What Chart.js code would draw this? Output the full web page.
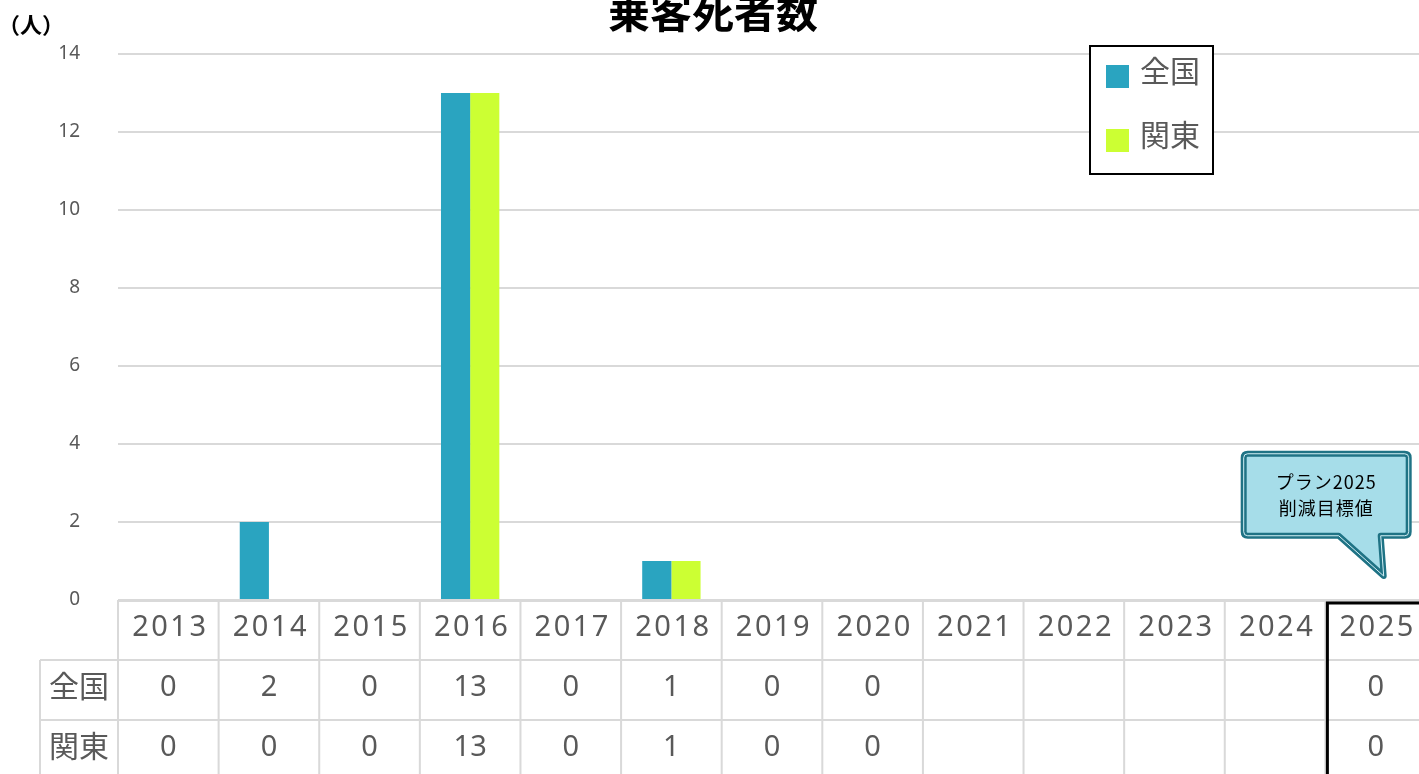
<!DOCTYPE html>
<html>
<head>
<meta charset="utf-8">
<script src="https://cdn.jsdelivr.net/npm/chart.js@4.4.1/dist/chart.umd.min.js"></script>
<style>
  html, body { margin: 0; padding: 0; background: #fff; overflow: hidden; }
  #wrap { width: 1426px; height: 774px; position: relative; }
</style>
</head>
<body>
<div id="wrap"><canvas id="deaths"></canvas></div>
<script>
// years shown on the axis / table header
const years = ['2013','2014','2015','2016','2017','2018','2019','2020','2021','2022','2023','2024','2025']
// passenger deaths, null = no figure yet
const zenkoku = [0, 2, 0, 13, 0, 1, 0, 0, null, null, null, null, 0]
const kanto = [0, 0, 0, 13, 0, 1, 0, 0, null, null, null, null, 0]
const seriesNames = ['全国', '関東']
const seriesColors = ['#2aa4c0', '#ccff33']
const yTicks = [0, 2, 4, 6, 8, 10, 12, 14]

const FONT = "'Noto Sans', 'Noto Sans CJK JP', sans-serif"
const GREY = '#595959'
const LINE = '#d9d9d9'

// draws title, unit, legend, data table and the target callout
const extras = {
    id: 'extras',
    afterDraw(chart) {
        const ctx = chart.ctx
        const area = chart.chartArea
        const xs = chart.scales.x
        const ys = chart.scales.y
        const colW = (area.right - area.left) / years.length
        const H = chart.height

        ctx.save()

        // title (cut at the top like the original)
        ctx.fillStyle = '#000'
        ctx.font = "bold 42px 'Noto Sans CJK JP', sans-serif"
        ctx.textAlign = 'center'
        ctx.textBaseline = 'middle'
        ctx.fillText('乗客死者数', chart.width / 2, 12)

        // unit
        ctx.font = "bold 22px 'Noto Sans CJK JP', sans-serif"
        ctx.textAlign = 'left'
        ctx.fillText('（人）', -2, 25)

        // table
        const rowTop = area.bottom
        const rowH = 60
        const labelLeft = 40
        ctx.strokeStyle = LINE
        ctx.lineWidth = 2
        ctx.beginPath()
        ctx.moveTo(area.left, rowTop + 1)
        ctx.lineTo(area.right, rowTop + 1)
        for (let r = 1; r <= 2; r++) {
            ctx.moveTo(labelLeft, rowTop + r * rowH)
            ctx.lineTo(area.right, rowTop + r * rowH)
        }
        ctx.moveTo(labelLeft, rowTop + rowH)
        ctx.lineTo(labelLeft, H)
        for (let i = 0; i <= years.length; i++) {
            let x = area.left + i * colW
            ctx.moveTo(x, rowTop)
            ctx.lineTo(x, H)
        }
        ctx.stroke()

        ctx.fillStyle = GREY
        ctx.textAlign = 'center'
        ctx.textBaseline = 'middle'
        ctx.font = '29px ' + FONT
        ctx.letterSpacing = '2.5px'
        for (let i = 0; i < years.length; i++) {
            let cx = xs.getPixelForValue(i)
            ctx.fillText(years[i], cx + 2, rowTop + rowH / 2 - 2)
        }
        ctx.letterSpacing = '0px'
        const rows = [zenkoku, kanto]
        for (let r = 0; r < rows.length; r++) {
            let cy = rowTop + rowH * (r + 1) + rowH / 2 - 2
            ctx.font = '30px ' + FONT
            ctx.fillText(seriesNames[r], (labelLeft + area.left) / 2, cy)
            ctx.font = '29px ' + FONT
            for (let i = 0; i < years.length; i++) {
                if (rows[r][i] === null) continue
                ctx.fillText(String(rows[r][i]), xs.getPixelForValue(i), cy)
            }
        }

        // target column frame (last year)
        const last = years.length - 1
        const fx = area.left + last * colW + 2
        ctx.strokeStyle = '#000'
        ctx.lineWidth = 3
        ctx.beginPath()
        ctx.moveTo(fx, H + 2)
        ctx.lineTo(fx, rowTop + 3)
        ctx.lineTo(area.right + 4, rowTop + 3)
        ctx.stroke()

        // legend box
        const lx = 1090, ly = 46, lw = 123, lh = 128
        ctx.fillStyle = '#fff'
        ctx.fillRect(lx, ly, lw, lh)
        ctx.strokeStyle = '#000'
        ctx.lineWidth = 2
        ctx.strokeRect(lx, ly, lw, lh)
        ctx.font = '30px ' + FONT
        ctx.textAlign = 'left'
        for (let k = 0; k < seriesNames.length; k++) {
            let yy = ly + 30 + k * 64
            ctx.fillStyle = seriesColors[k]
            ctx.fillRect(lx + 16, yy - 11, 23, 23)
            ctx.fillStyle = GREY
            ctx.fillText(seriesNames[k], lx + 50, yy - 3)
        }

        // callout pointing at the target value
        const tipX = xs.getPixelForValue(last) + 8
        const tipY = ys.getPixelForValue(0) - 24
        const bx = tipX - 140, by = ys.getPixelForValue(3.75), bw = 165, bh = 82
        ctx.beginPath()
        ctx.moveTo(bx + 4, by)
        ctx.lineTo(bx + bw - 4, by)
        ctx.quadraticCurveTo(bx + bw, by, bx + bw, by + 4)
        ctx.lineTo(bx + bw, by + bh - 4)
        ctx.quadraticCurveTo(bx + bw, by + bh, bx + bw - 4, by + bh)
        ctx.lineTo(tipX - 3, by + bh)
        ctx.lineTo(tipX, tipY)
        ctx.lineTo(tipX - 45, by + bh)
        ctx.lineTo(bx + 4, by + bh)
        ctx.quadraticCurveTo(bx, by + bh, bx, by + bh - 4)
        ctx.lineTo(bx, by + 4)
        ctx.quadraticCurveTo(bx, by, bx + 4, by)
        ctx.closePath()
        ctx.fillStyle = '#a6dde9'
        ctx.fill()
        ctx.lineJoin = 'round'
        ctx.strokeStyle = '#1f7385'
        ctx.lineWidth = 6
        ctx.stroke()
        ctx.strokeStyle = '#d4f0f6'
        ctx.lineWidth = 1
        ctx.stroke()

        ctx.fillStyle = '#000'
        ctx.textAlign = 'center'
        ctx.font = "18px 'Noto Sans CJK JP', sans-serif"
        ctx.letterSpacing = '1px'
        ctx.fillText('プラン2025', bx + bw / 2, by + 28)
        ctx.fillText('削減目標値', bx + bw / 2, by + 54)
        ctx.letterSpacing = '0px'

        ctx.restore()
    }
}

const data_d = {
    labels: years,
    datasets: [{
        label: seriesNames[0],
        backgroundColor: seriesColors[0],
        data: zenkoku
    }, {
        label: seriesNames[1],
        backgroundColor: seriesColors[1],
        data: kanto
    }]
}

const config_d = {
    type: 'bar',
    data: data_d,
    options: {
        responsive: true,
        maintainAspectRatio: false,
        animation: false,
        layout: { padding: { top: 54, bottom: 174, left: 0, right: 0 } },
        categoryPercentage: 0.58,
        barPercentage: 1,
        plugins: {
            legend: { display: false },
            title: { display: false },
            tooltip: { enabled: false }
        },
        scales: {
            x: { display: false },
            y: {
                min: 0,
                max: 14,
                afterFit: (s) => { s.width = 118 },
                afterBuildTicks: (s) => { s.ticks = yTicks.map(v => ({ value: v })) },
                border: { display: false },
                grid: { color: LINE, lineWidth: 2, drawTicks: false },
                ticks: {
                    padding: 38,
                    color: GREY,
                    font: { family: FONT, size: 19 }
                }
            }
        }
    },
    plugins: [extras]
}

const deathsChart = new Chart(document.getElementById('deaths'), config_d)
</script>
</body>
</html>
